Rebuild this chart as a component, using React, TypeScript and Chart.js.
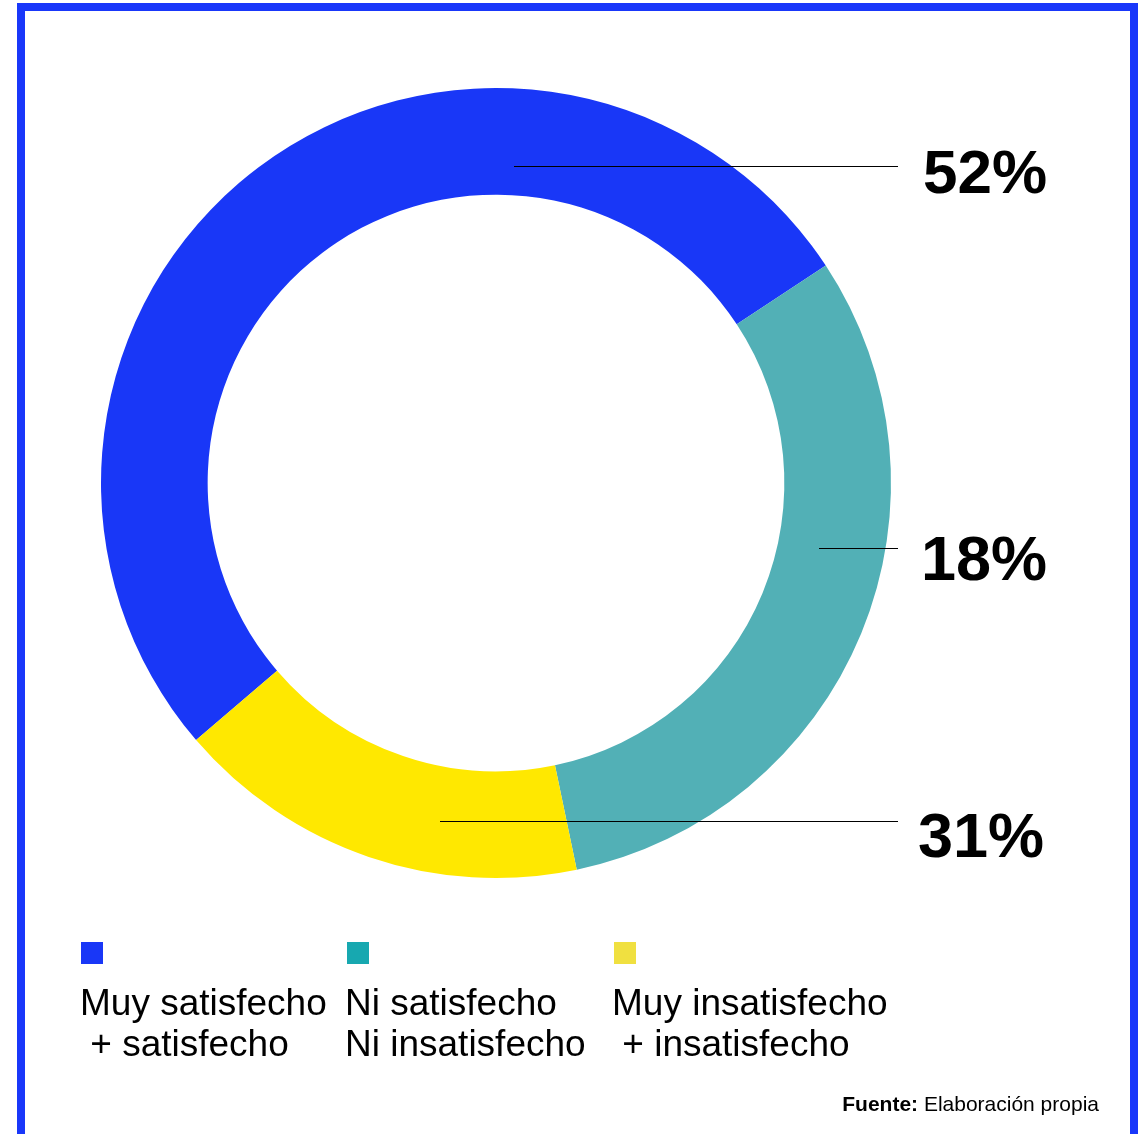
import React, { useEffect, useRef } from "react";
import { Chart, registerables } from "chart.js";

Chart.register(...registerables);

const categories = [
  ["Muy satisfecho", " + satisfecho"],
  ["Ni satisfecho", "Ni insatisfecho"],
  ["Muy insatisfecho", " + insatisfecho"],
];
const values = [52, 31, 17];
const sliceColors = ["#1937f7", "#52b0b6", "#ffe800"];
const legendColors = ["#1937f7", "#17a8b0", "#f0e040"];
const percentLabels = ["52%", "18%", "31%"];
const sourceBold = "Fuente:";
const sourceText = " Elaboración propia";

const FONT = "'Liberation Sans', Arial, sans-serif";

// annotation line geometry relative to doughnut center (px offsets) and label placement
const annotations = [
  { x0: 18, y: -317, textX: 923, baseline: 193, size: 62 },
  { x0: 323, y: 65, textX: 921, baseline: 580, size: 63 },
  { x0: -56, y: 338, textX: 918, baseline: 857, size: 63 },
];

const overlayPlugin = {
  id: "overlay",
  beforeDraw(chart: any) {
    const ctx = chart.ctx;
    ctx.save();
    ctx.fillStyle = "#ffffff";
    ctx.fillRect(0, 0, chart.width, chart.height);
    ctx.fillStyle = "#1937fa";
    ctx.fillRect(17, 3, 1121, 8);
    ctx.fillRect(17, 3, 8, 1200);
    ctx.fillRect(1130, 3, 8, 1200);
    ctx.restore();
  },
  afterDraw(chart: any) {
    const ctx = chart.ctx;
    const arc = chart.getDatasetMeta(0).data[0];
    const cx = arc.x;
    const cy = arc.y;
    ctx.save();
    annotations.forEach((a, i) => {
      const y = Math.round(cy + a.y) + 0.5;
      ctx.strokeStyle = "#000";
      ctx.lineWidth = 1.2;
      ctx.beginPath();
      ctx.moveTo(cx + a.x0, y);
      ctx.lineTo(898, y);
      ctx.stroke();
      ctx.fillStyle = "#000";
      ctx.font = `bold ${a.size}px ${FONT}`;
      ctx.textBaseline = "alphabetic";
      ctx.textAlign = "left";
      ctx.fillText(percentLabels[i], a.textX, a.baseline);
    });
    const legendX = [80, 345, 612];
    const boxX = [81, 347, 614];
    categories.forEach((lines, i) => {
      ctx.fillStyle = legendColors[i];
      ctx.fillRect(boxX[i], 942, 22, 22);
      ctx.fillStyle = "#000";
      ctx.font = `37px ${FONT}`;
      ctx.textAlign = "left";
      lines.forEach((ln, j) => {
        ctx.fillText(ln, legendX[i], 1015 + j * 41);
      });
    });
    ctx.font = `21px ${FONT}`;
    const w2 = ctx.measureText(sourceText).width;
    ctx.font = `bold 21px ${FONT}`;
    const w1 = ctx.measureText(sourceBold).width;
    const right = 1099;
    const start = right - w1 - w2;
    ctx.fillStyle = "#000";
    ctx.fillText(sourceBold, start, 1111);
    ctx.font = `21px ${FONT}`;
    ctx.fillText(sourceText, start + w1, 1111);
    ctx.restore();
  },
};

export default function App() {
  const ref = useRef<HTMLCanvasElement>(null);
  useEffect(() => {
    if (!ref.current) return;
    const chart = new Chart(ref.current, {
      type: "doughnut",
      data: {
        labels: categories.map((c) => c.join(" ")),
        datasets: [
          {
            data: values,
            backgroundColor: sliceColors,
            borderWidth: 0,
          },
        ],
      },
      options: {
        responsive: false,
        animation: false,
        cutout: "73%",
        rotation: 229.4,
        layout: { padding: { left: 101, top: 88, right: 254, bottom: 256 } },
        plugins: {
          legend: { display: false },
          tooltip: { enabled: false },
        },
      },
      plugins: [overlayPlugin],
    });
    return () => chart.destroy();
  }, []);
  return (
    <div style={{ position: "absolute", left: 0, top: 0, width: 1145, height: 1134, overflow: "hidden" }}>
      <canvas ref={ref} width={1145} height={1134} style={{ display: "block" }} />
    </div>
  );
}
